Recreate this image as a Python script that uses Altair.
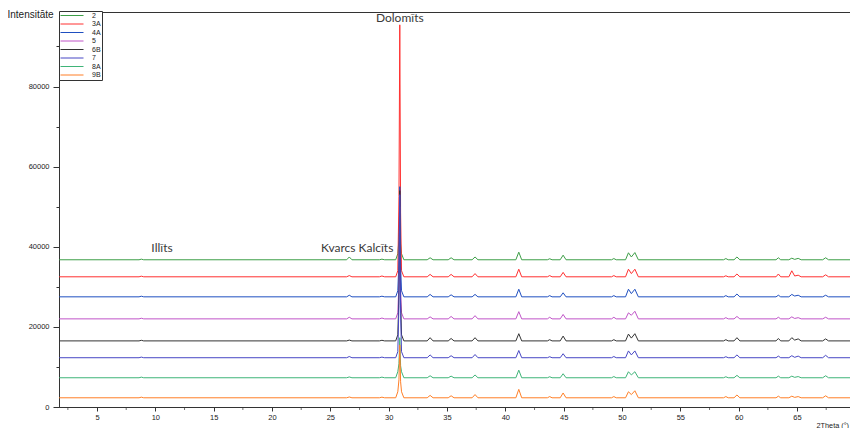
import altair as alt
import pandas as pd

# 2Theta grid (degrees) shared by all patterns
TWO_THETA = [1.75, 8.6, 8.8, 9.0, 26.4, 26.62, 26.85, 29.2, 29.42, 29.65,
             30.6, 30.78, 30.88, 30.95, 31.02, 31.1, 31.3, 33.3, 33.55, 33.8,
             35.1, 35.35, 35.6, 37.15, 37.4, 37.65, 40.9, 41.15, 41.4, 43.6,
             43.8, 44.0, 44.7, 44.95, 45.2, 49.1, 49.3, 49.5, 50.3, 50.55,
             50.8, 51.1, 51.4, 58.7, 58.9, 59.1, 59.6, 59.85, 60.1, 63.2,
             63.4, 63.6, 64.3, 64.55, 64.8, 65.1, 65.35, 67.2, 67.45, 67.7,
             69.97]

SAMPLES = ["2", "3A", "4A", "5", "6B", "7", "8A", "9B"]
COLORS = ["#3d9e47", "#ff3030", "#1f4fc0", "#c055c8",
          "#333333", "#4747c4", "#3fb478", "#ff7f27"]

I_2 = [36750, 36750, 36900, 36750, 36750, 37450, 36750, 36750, 36900, 36750,
       36750, 38250, 41750, 52750, 40750, 38250, 36750, 36750, 37250, 36750,
       36750, 37250, 36750, 36750, 37450, 36750, 36750, 38650, 36750, 36750,
       37000, 36750, 36750, 37900, 36750, 36750, 37050, 36750, 36750, 38500,
       37450, 38550, 36750, 36750, 37050, 36750, 36750, 37450, 36750, 36750,
       37250, 36750, 36750, 37150, 36850, 37100, 36750, 36750, 37250, 36750,
       36750]
I_3A = [32500, 32500, 32650, 32500, 32500, 32800, 32500, 32500, 32700, 32500,
        32500, 34000, 52500, 95400, 48500, 34000, 32500, 32500, 33100, 32500,
        32500, 33100, 32500, 32500, 33300, 32500, 32500, 34400, 32500, 32500,
        32800, 32500, 32500, 33600, 32500, 32500, 32800, 32500, 32500, 34400,
        33300, 34400, 32500, 32500, 32750, 32500, 32500, 33200, 32500, 32500,
        33200, 32500, 32500, 34000, 32700, 32900, 32500, 32500, 33000, 32500,
        32500]
I_4A = [27500, 27500, 27650, 27500, 27500, 27900, 27500, 27500, 27650, 27500,
        27500, 29000, 36500, 55000, 35000, 29000, 27500, 27500, 28100, 27500,
        27500, 28000, 27500, 27500, 28100, 27500, 27500, 29400, 27500, 27500,
        27800, 27500, 27500, 28500, 27500, 27500, 27800, 27500, 27500, 29400,
        28300, 29400, 27500, 27500, 27800, 27500, 27500, 28200, 27500, 27500,
        27900, 27500, 27500, 28100, 27700, 27900, 27500, 27500, 27900, 27500,
        27500]
I_5 = [22000, 22000, 22150, 22000, 22000, 22400, 22000, 22000, 22200, 22000,
       22000, 23500, 31000, 50000, 29000, 23500, 22000, 22000, 22500, 22000,
       22000, 22600, 22000, 22000, 22800, 22000, 22000, 23800, 22000, 22000,
       22400, 22000, 22000, 23100, 22000, 22000, 22400, 22000, 22000, 23500,
       22900, 23900, 22000, 22000, 22300, 22000, 22000, 22600, 22000, 22000,
       22400, 22000, 22000, 22500, 22100, 22300, 22000, 22000, 22400, 22000,
       22000]
I_6B = [16500, 16500, 16650, 16500, 16500, 16700, 16500, 16500, 16650, 16500,
        16500, 18000, 28500, 54000, 26500, 18000, 16500, 16500, 17300, 16500,
        16500, 17100, 16500, 16500, 17300, 16500, 16500, 18300, 16500, 16500,
        16800, 16500, 16500, 17700, 16500, 16500, 16800, 16500, 16500, 18200,
        17200, 18300, 16500, 16500, 16800, 16500, 16500, 17300, 16500, 16500,
        17100, 16500, 16500, 17300, 16700, 17000, 16500, 16500, 17000, 16500,
        16500]
I_7 = [12300, 12300, 12450, 12300, 12300, 12600, 12300, 12300, 12450, 12300,
       12300, 13800, 25300, 53000, 23300, 13800, 12300, 12300, 13000, 12300,
       12300, 12800, 12300, 12300, 13100, 12300, 12300, 14100, 12300, 12300,
       12550, 12300, 12300, 13300, 12300, 12300, 12600, 12300, 12300, 14000,
       13000, 14000, 12300, 12300, 12550, 12300, 12300, 13000, 12300, 12300,
       12700, 12300, 12300, 12800, 12400, 12700, 12300, 12300, 12900, 12300,
       12300]
I_8A = [7300, 7300, 7450, 7300, 7300, 7500, 7300, 7300, 7450, 7300,
        7300, 8800, 10800, 17300, 10300, 8800, 7300, 7300, 7800, 7300,
        7300, 7700, 7300, 7300, 8000, 7300, 7300, 9200, 7300, 7300,
        7550, 7300, 7300, 8300, 7300, 7300, 7600, 7300, 7300, 8800,
        8000, 8800, 7300, 7300, 7550, 7300, 7300, 7900, 7300, 7300,
        7700, 7300, 7300, 7700, 7400, 7600, 7300, 7300, 7800, 7300,
        7300]
I_9B = [2300, 2300, 2450, 2300, 2300, 2500, 2300, 2300, 2450, 2300,
        2300, 3800, 6800, 15500, 6300, 3800, 2300, 2300, 2900, 2300,
        2300, 2800, 2300, 2300, 3100, 2300, 2300, 4400, 2300, 2300,
        2600, 2300, 2300, 3500, 2300, 2300, 2600, 2300, 2300, 3800,
        3100, 4050, 2300, 2300, 2600, 2300, 2300, 3000, 2300, 2300,
        2700, 2300, 2300, 2700, 2400, 2600, 2300, 2300, 2800, 2300,
        2300]

SERIES = [I_2, I_3A, I_4A, I_5, I_6B, I_7, I_8A, I_9B]

LABELS = ["Dolomīts", "Illīts", "Kvarcs Kalcīts"]
LABEL_X = [30.95, 10.57, 27.3]
LABEL_Y = [97100, 39750, 39750]

X_MAJOR = [5, 10, 15, 20, 25, 30, 35, 40, 45, 50, 55, 60, 65]
X_MINOR = [2.5, 7.5, 12.5, 17.5, 22.5, 27.5, 32.5, 37.5, 42.5, 47.5, 52.5,
           57.5, 62.5, 67.5]
Y_TICKS = [0, 10000, 20000, 30000, 40000, 50000, 60000, 70000, 80000, 90000]

rows = []
for name, ys in zip(SAMPLES, SERIES):
    for x, y in zip(TWO_THETA, ys):
        rows.append({"two_theta": x, "intensity": y, "sample": name})
df = pd.DataFrame(rows)
df_lab = pd.DataFrame({"two_theta": LABEL_X, "intensity": LABEL_Y, "label": LABELS})
df_minor = pd.DataFrame({"two_theta": X_MINOR})

xscale = alt.Scale(domain=[1.74, 69.54], nice=False, zero=False)
yscale = alt.Scale(domain=[0, 98600], nice=False)

lines = alt.Chart(df).mark_line(strokeWidth=1, clip=True).encode(
    x=alt.X("two_theta:Q", scale=xscale,
            axis=alt.Axis(values=X_MAJOR, grid=False, title="2Theta (°)",
                          labelOverlap=False, labelFlush=False, format="d",
                          tickSize=4,
                          labelPadding=2, labelFontSize=7.5, labelFont="Liberation Sans",
                          titleX=757, titleY=18, titleAlign="left", titleBaseline="middle",
                          titleFontSize=7.3, titleFont="Liberation Sans", titleFontWeight="normal")),
    y=alt.Y("intensity:Q", scale=yscale,
            axis=alt.Axis(values=Y_TICKS, grid=False, format="d", title="Intensitāte",
                          labelOverlap=False,
                          labelExpr="datum.value % 20000 === 0 ? datum.label : ''",
                          tickSize={"condition": {"test": "datum.value % 20000 === 0", "value": 6}, "value": 3},
                          labelPadding=4, labelFontSize=7.5, labelFont="Liberation Sans",
                          titleAngle=0, titleX=-52, titleY=2, titleAlign="left",
                          titleBaseline="middle", titleFontSize=10,
                          titleFont="Liberation Sans", titleFontWeight="normal")),
    color=alt.Color("sample:N", scale=alt.Scale(domain=SAMPLES, range=COLORS),
                    sort=SAMPLES, title=None,
                    legend=alt.Legend(orient="none", legendX=0, legendY=-1,
                                      symbolType="stroke", symbolSize=529,
                                      symbolStrokeWidth=1, clipHeight=7,
                                      rowPadding=0.5, padding=1, labelOffset=8,
                                      labelFontSize=7, labelFont="Liberation Sans",
                                      labelColor="#222", strokeColor="#333",
                                      fillColor="white", symbolOffset=0)),
)

minor_ticks = alt.Chart(df_minor).mark_tick(
    orient="vertical", size=3, thickness=1, color="#333", clip=False
).encode(
    x=alt.X("two_theta:Q", scale=xscale),
    y=alt.value(396.5),
)

texts = alt.Chart(df_lab).mark_text(font="Lato", fontSize=12, color="#3a3a3a").encode(
    x=alt.X("two_theta:Q", scale=xscale),
    y=alt.Y("intensity:Q", scale=yscale),
    text="label:N",
)

chart = alt.layer(lines, minor_ticks, texts).properties(
    width=791, height=395,
    autosize=alt.AutoSizeParams(type="none"),
    padding={"left": 51, "top": 4, "right": 0, "bottom": 21},
).configure_view(stroke="#333", strokeWidth=1).configure_axis(
    domainColor="#333", tickColor="#333", labelColor="#222", titleColor="#222"
)

chart.save("out.html", embed_options={"renderer": "svg", "actions": False})
